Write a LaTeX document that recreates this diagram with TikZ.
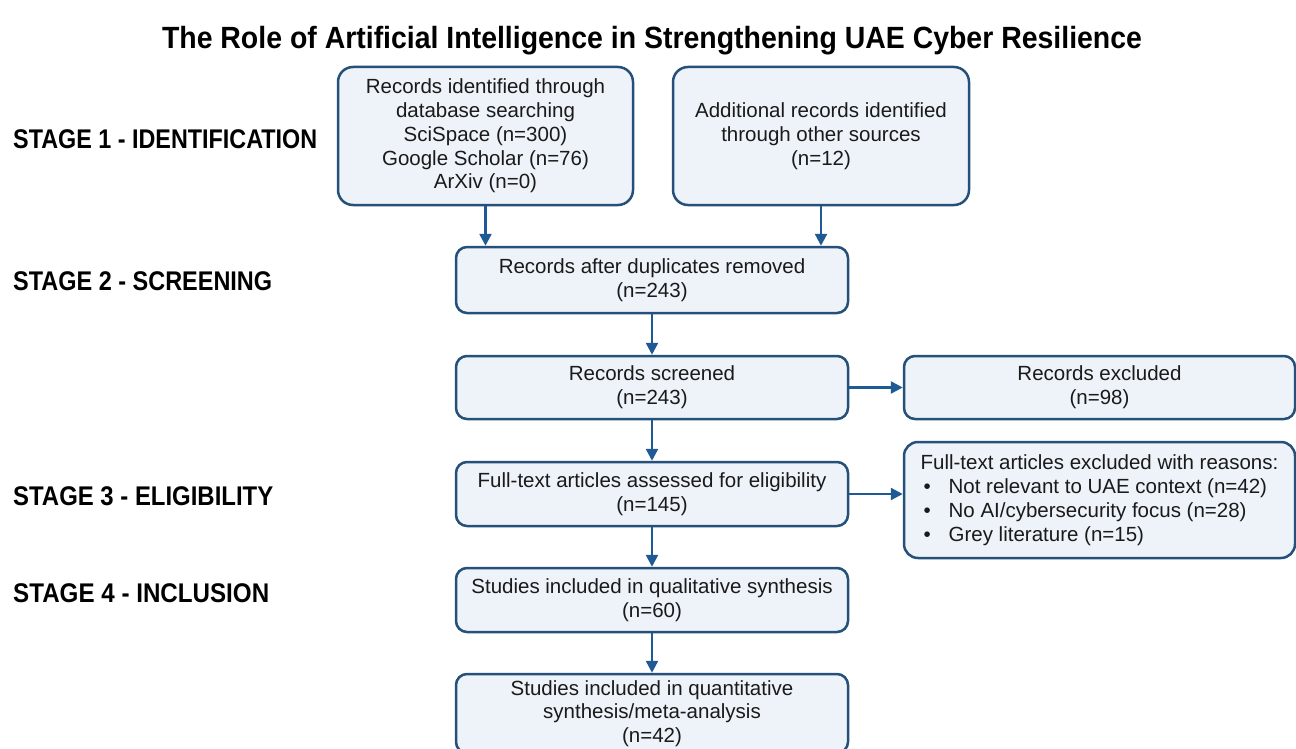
\documentclass[tikz,border=0pt]{standalone}
\usepackage{fontspec}
\setmainfont{Liberation Sans}
\usetikzlibrary{arrows.meta}
\definecolor{bordc}{HTML}{24507A}
\definecolor{fillc}{HTML}{EEF3F9}
\definecolor{arrc}{HTML}{1F5A94}
\definecolor{txtc}{HTML}{1A1A1A}
\newcommand{\fitw}[2]{\resizebox{#1}{\height}{#2}}
\newcommand{\bodyfont}{\fontsize{20.5}{23.8}\selectfont}
\newcommand{\stagefont}{\bfseries\fontsize{27}{27}\selectfont}
\newcommand{\titlefont}{\bfseries\fontsize{30.7}{31}\selectfont}
\begin{document}
\begin{tikzpicture}[x=1pt,y=-1pt,
  box/.style={draw=bordc, fill=fillc, line width=2.5pt, rounded corners=11pt,
    align=center, text=txtc, font=\bodyfont, inner sep=0pt, minimum width=392pt},
  bigbox/.style={box, rounded corners=15pt},
  arr/.style={draw=arrc, line width=2.5pt, -{Triangle[length=12pt,width=12pt]}},
  stagelbl/.style={anchor=base west, inner sep=0pt, text=black, font=\stagefont},
]
\useasboundingbox[fill=white] (0,0) rectangle (1296,749);

% title
\node[anchor=base, inner sep=0pt, text=black, font=\titlefont] (title) at (652,49)
  {\fitw{980pt}{The Role of Artificial Intelligence in Strengthening UAE Cyber Resilience}};

% stage labels
\node[stagelbl] (s1) at (13,149) {\fitw{304pt}{STAGE 1 - IDENTIFICATION}};
\node[stagelbl] (s2) at (13,290) {\fitw{259pt}{STAGE 2 - SCREENING}};
\node[stagelbl] (s3) at (13,505) {\fitw{260pt}{STAGE 3 - ELIGIBILITY}};
\node[stagelbl] (s4) at (13,602) {\fitw{256pt}{STAGE 4 - INCLUSION}};

% boxes
\node[bigbox, minimum width=295pt, minimum height=138pt] (A) at (485.5,136)
  {Records identified through\\database searching\\SciSpace (n=300)\\Google Scholar (n=76)\\ArXiv (n=0)};
\node[bigbox, minimum width=296pt, minimum height=138pt] (B) at (821,136)
  {Additional records identified\\through other sources\\(n=12)};
\node[box, minimum height=66pt] (C) at (652,280)
  {Records after duplicates removed\\(n=243)};
\node[box, minimum height=63pt] (D) at (652,387.5)
  {Records screened\\(n=243)};
\node[box, minimum width=391pt, minimum height=63pt] (E) at (1099.5,387.5)
  {Records excluded\\(n=98)};
\node[box, minimum height=64pt] (F) at (652,494)
  {Full-text articles assessed for eligibility\\(n=145)};
\node[box, rounded corners=14pt, align=left, minimum width=391pt, minimum height=116pt] (G) at (1099.5,500)
  {Full-text articles excluded with reasons:\\
   \makebox[28pt][l]{\hspace{3pt}•}Not relevant to UAE context (n=42)\\
   \makebox[28pt][l]{\hspace{3pt}•}No AI/cybersecurity focus (n=28)\\
   \makebox[28pt][l]{\hspace{3pt}•}Grey literature (n=15)};
\node[box, minimum height=64pt] (H) at (652,600)
  {Studies included in qualitative synthesis\\(n=60)};
\node[box, minimum height=79pt] (I) at (652,713.5)
  {Studies included in quantitative\\synthesis/meta-analysis\\(n=42)};

% connectors
\draw[arr] (A.south) -- (A.south |- C.north);
\draw[arr] (B.south) -- (B.south |- C.north);
\draw[arr] (C.south) -- (D.north);
\draw[arr] (D.east) -- (E.west);
\draw[arr] (D.south) -- (F.north);
\draw[arr] (F.east) -- (F.east -| G.west);
\draw[arr] (F.south) -- (H.north);
\draw[arr] (H.south) -- (I.north);
\end{tikzpicture}
\end{document}
